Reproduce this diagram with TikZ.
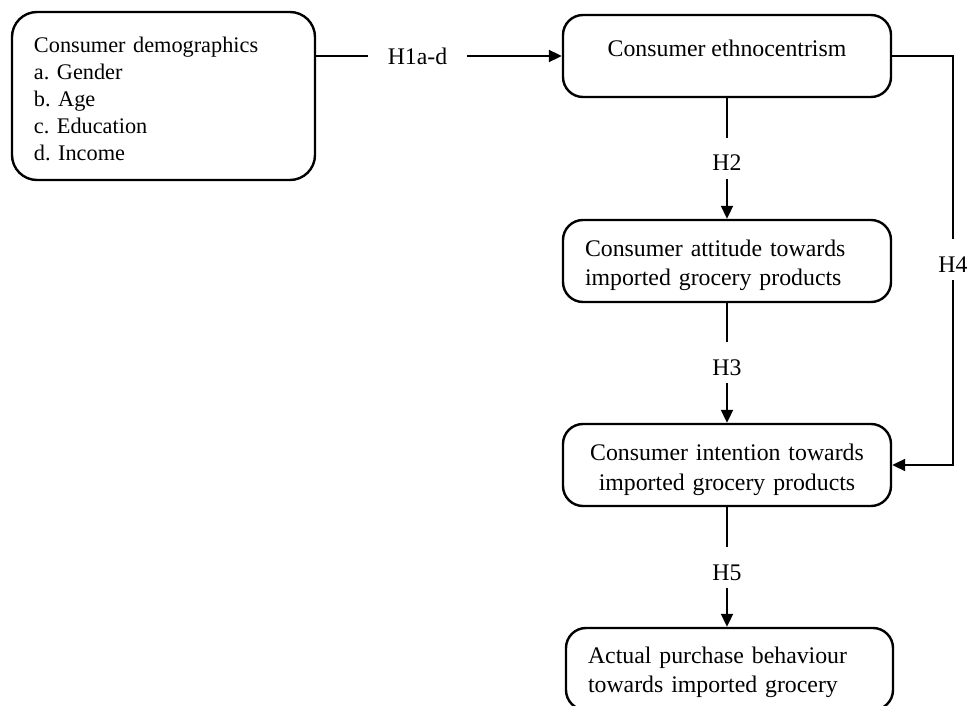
\documentclass[tikz,border=0pt]{standalone}
\usepackage{fontspec}
\setmainfont{Liberation Serif}
\usetikzlibrary{arrows.meta}
\frenchspacing
\begin{document}
\begin{tikzpicture}[x=1pt,y=1pt,
  box/.style={draw, line width=2.4pt, rounded corners=20pt, inner xsep=22pt, inner ysep=0pt,
    minimum height=82pt, font=\fontsize{23.8}{29.5}\selectfont},
  conn/.style={line width=2pt},
  arr/.style={conn, -{Triangle[length=13pt,width=12pt]}},
  hlab/.style={inner xsep=0pt, inner ysep=8pt, text height=25pt, text depth=0pt, anchor=base,
    font=\fontsize{23.8}{29.5}\selectfont},
  hlabh/.style={inner xsep=20pt, inner ysep=0pt, font=\fontsize{23.8}{29.5}\selectfont}
]
\useasboundingbox (0,0) rectangle (970,-706);

% boxes
\node[box, rounded corners=25pt, minimum width=303pt, minimum height=168pt, text width=259pt,
  align=left, font=\fontsize{22.3}{27}\selectfont] (demo) at (163.5,-96)
  {\rule{0pt}{22pt}Consumer demographics\\a. Gender\\b. Age\\c. Education\\d. Income};
\node[box, minimum width=328pt, minimum height=0pt, inner xsep=0pt, align=center,
  text height=42pt, text depth=40pt] (ethno) at (727,-56) {Consumer ethnocentrism};
\node[box, minimum width=328pt, text width=284pt, align=left] (att) at (727,-261)
  {\rule{0pt}{25pt}Consumer attitude towards\\imported grocery products};
\node[box, minimum width=328pt, text width=284pt, align=center] (int) at (727,-465)
  {\rule{0pt}{26pt}Consumer intention towards\\imported grocery products};
\node[box, minimum width=327pt, text width=283pt, align=left] (act) at (729.5,-669)
  {\rule{0pt}{23pt}Actual purchase behaviour\\towards imported grocery};

% labels
\node[hlabh] (h1) at (417.5,-56) {H1a-d};
\node[hlab] (h2) at (727,-171) {H2};
\node[hlab] (h3) at (727,-375) {H3};
\node[hlab] (h5) at (727,-580) {H5};
\node[hlab] (h4) at (953,-272) {H4};

% connectors
\draw[conn] (demo.east |- h1.west) -- (h1.west);
\draw[arr] (h1.east) -- (ethno.west);
\draw[conn] (ethno.south) -- (h2.north);
\draw[arr] (h2.south) -- (att.north);
\draw[conn] (att.south) -- (h3.north);
\draw[arr] (h3.south) -- (int.north);
\draw[conn] (int.south) -- (h5.north);
\draw[arr] (h5.south) -- (h5.south |- act.north);
\draw[conn] (ethno.east) -| (h4.north);
\draw[arr] (h4.south) |- (int.east);
\end{tikzpicture}
\end{document}
